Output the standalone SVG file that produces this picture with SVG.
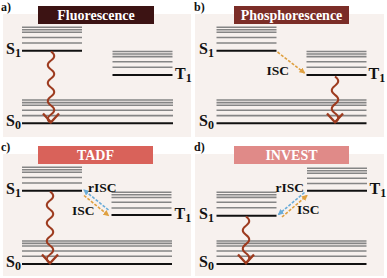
<svg xmlns="http://www.w3.org/2000/svg" width="387" height="278" viewBox="0 0 387 278">
<style>
.bg{fill:#f7f1ee}
.gray{stroke:#858585;stroke-width:1.6;fill:none}
.blk{stroke:#111;stroke-width:2;fill:none}
.wave{stroke:#9d3b1f;stroke-width:2;fill:none}
.head{stroke:#9d3b1f;stroke-width:2.4;fill:none;stroke-linejoin:miter}
.isc{stroke:#dfa040;stroke-width:1.6;stroke-dasharray:3,1.5;fill:none}
.risc{stroke:#6aacd8;stroke-width:1.6;stroke-dasharray:3,1.5;fill:none}
text{font-family:"Liberation Serif","Times New Roman",serif;font-weight:bold}
.title{fill:#fff;font-size:14px;text-anchor:middle}
.lab{fill:#111;font-size:16px}
.sub{font-size:12px}
.pl{fill:#111;font-size:12px}
.small{fill:#111;font-size:13.5px}
</style>
<defs>
<marker id="ao" markerWidth="6" markerHeight="6" refX="5" refY="3" orient="auto" markerUnits="userSpaceOnUse"><path d="M0,0L6,3L0,6z" fill="#dfa040"/></marker>
<marker id="ab" markerWidth="6" markerHeight="6" refX="5" refY="3" orient="auto" markerUnits="userSpaceOnUse"><path d="M0,0L6,3L0,6z" fill="#6aacd8"/></marker>
</defs>

<!-- Panel a -->
<g id="panel-a">
<rect class="bg" x="3" y="14" width="188" height="123"/>
<text class="pl" x="1" y="11">a)</text>
<rect x="38" y="6" width="116" height="18" fill="#3c1313"/>
<text class="title" x="96" y="20">Fluorescence</text>
<g id="a-S1">
<path class="gray" d="M22,27.3h60M22,29.7h60M22,32.3h60M22,37.5h60M22,43h60"/>
<path class="blk" d="M22,50.7h60"/>
<text class="lab" x="6" y="53.5">S<tspan class="sub" dy="3">1</tspan></text>
</g>
<g id="a-T1">
<path class="gray" d="M112.5,51.5h60M112.5,54h60M112.5,56.6h60M112.5,61.8h60M112.5,67.3h60"/>
<path class="blk" d="M112.5,75h60"/>
<text class="lab" x="175" y="78.5">T<tspan class="sub" dy="3">1</tspan></text>
</g>
<g id="a-S0">
<path class="gray" d="M22,100h151M22,102.6h151M22,105.2h151M22,110.3h151M22,115.6h151"/>
<path class="blk" d="M22,123.3h151"/>
<text class="lab" x="6" y="125.5">S<tspan class="sub" dy="3">0</tspan></text>
</g>
</g>

<!-- Panel b -->
<g id="panel-b">
<rect class="bg" x="195" y="14" width="189" height="123"/>
<text class="pl" x="194" y="11">b)</text>
<rect x="234" y="6" width="115" height="18" fill="#7b2d27"/>
<text class="title" x="291.5" y="20">Phosphorescence</text>
<g id="b-S1">
<path class="gray" d="M216.5,27.3h60M216.5,29.7h60M216.5,32.3h60M216.5,37.5h60M216.5,43h60"/>
<path class="blk" d="M216.5,50.7h60"/>
<text class="lab" x="199" y="53.5">S<tspan class="sub" dy="3">1</tspan></text>
</g>
<g id="b-T1">
<path class="gray" d="M306.5,51.5h60M306.5,54h60M306.5,56.6h60M306.5,61.8h60M306.5,67.3h60"/>
<path class="blk" d="M306.5,75h60"/>
<text class="lab" x="368.5" y="78.5">T<tspan class="sub" dy="3">1</tspan></text>
</g>
<g id="b-S0">
<path class="gray" d="M216.5,100h150M216.5,102.6h150M216.5,105.2h150M216.5,110.3h150M216.5,115.6h150"/>
<path class="blk" d="M216.5,123.3h150"/>
<text class="lab" x="199" y="125.5">S<tspan class="sub" dy="3">0</tspan></text>
</g>
</g>

<!-- Panel c -->
<g id="panel-c">
<rect class="bg" x="3" y="154" width="188" height="122"/>
<text class="pl" x="1" y="151">c)</text>
<rect x="38" y="146" width="115" height="18" fill="#d9625a"/>
<text class="title" x="95.5" y="160">TADF</text>
<g id="c-S1">
<path class="gray" d="M22,167.3h60M22,169.7h60M22,172.3h60M22,177.5h60M22,183h60"/>
<path class="blk" d="M22,190.7h60"/>
<text class="lab" x="6" y="193.5">S<tspan class="sub" dy="3">1</tspan></text>
</g>
<g id="c-T1">
<path class="gray" d="M111.5,192.3h60M111.5,194.8h60M111.5,197.5h60M111.5,202.3h60M111.5,208h60"/>
<path class="blk" d="M111.5,215h60"/>
<text class="lab" x="174.5" y="218.5">T<tspan class="sub" dy="3">1</tspan></text>
</g>
<g id="c-S0">
<path class="gray" d="M22,241h150M22,243.4h150M22,246h150M22,251h150M22,256.3h150"/>
<path class="blk" d="M22,264h150"/>
<text class="lab" x="6" y="266.5">S<tspan class="sub" dy="3">0</tspan></text>
</g>
</g>

<!-- Panel d -->
<g id="panel-d">
<rect class="bg" x="195" y="154" width="189" height="122"/>
<text class="pl" x="194" y="151">d)</text>
<rect x="234" y="146" width="115" height="18" fill="#e08a88"/>
<text class="title" x="291.5" y="160">INVEST</text>
<g id="d-T1">
<path class="gray" d="M307,168.3h60M307,170.7h60M307,173.3h60M307,178.3h60M307,183.5h60"/>
<path class="blk" d="M307,190.7h60"/>
<text class="lab" x="369.5" y="194">T<tspan class="sub" dy="3">1</tspan></text>
</g>
<g id="d-S1">
<path class="gray" d="M216.5,192.3h60M216.5,194.8h60M216.5,197.4h60M216.5,202.3h60M216.5,207.7h60"/>
<path class="blk" d="M216.5,215.7h60"/>
<text class="lab" x="199" y="218.5">S<tspan class="sub" dy="3">1</tspan></text>
</g>
<g id="d-S0">
<path class="gray" d="M216.5,241h150M216.5,243.4h150M216.5,246h150M216.5,251h150M216.5,256.3h150"/>
<path class="blk" d="M216.5,264h150"/>
<text class="lab" x="199" y="266.5">S<tspan class="sub" dy="3">0</tspan></text>
</g>
</g>

<!-- connectors -->
<g id="connectors">
<path class="wave" d="M51,51.5q6.5,4.5 0,9t0,9t0,9t0,9t0,9t0,9t0,9t0,8.5"/>
<path class="head" d="M43,113.5L51,122.3L59,113.5"/>
<path class="isc" d="M277.5,52L304.5,73" marker-end="url(#ao)"/>
<text class="small" x="266.5" y="75">ISC</text>
<path class="wave" d="M335,76.5q6.5,4.6 0,9.2t0,9.2t0,9.2t0,9.2t0,9.2"/>
<path class="head" d="M327,113.5L335,122.3L343,113.5"/>

<path class="wave" d="M50,191.5q6.5,4.5 0,9t0,9t0,9t0,9t0,9t0,9t0,9t0,8.5"/>
<path class="head" d="M42,254.5L50,263.3L58,254.5"/>
<path class="risc" d="M108.5,210L84,190" marker-end="url(#ab)"/>
<path class="isc" d="M84,195.5L108.5,215.5" marker-end="url(#ao)"/>
<text class="small" x="88" y="191.5">rISC</text>
<text class="small" x="72" y="214.5">ISC</text>

<path class="wave" d="M246,216.5q6.5,4.6 0,9.2t0,9.2t0,9.2t0,9.2t0,9.2"/>
<path class="head" d="M238,254.5L246,263.3L254,254.5"/>
<path class="risc" d="M304.5,192.5L278.5,214.5" marker-end="url(#ab)"/>
<path class="isc" d="M282,217L307,195.5" marker-end="url(#ao)"/>
<text class="small" x="275.5" y="191.5">rISC</text>
<text class="small" x="297" y="213.5">ISC</text>
</g>
</svg>
